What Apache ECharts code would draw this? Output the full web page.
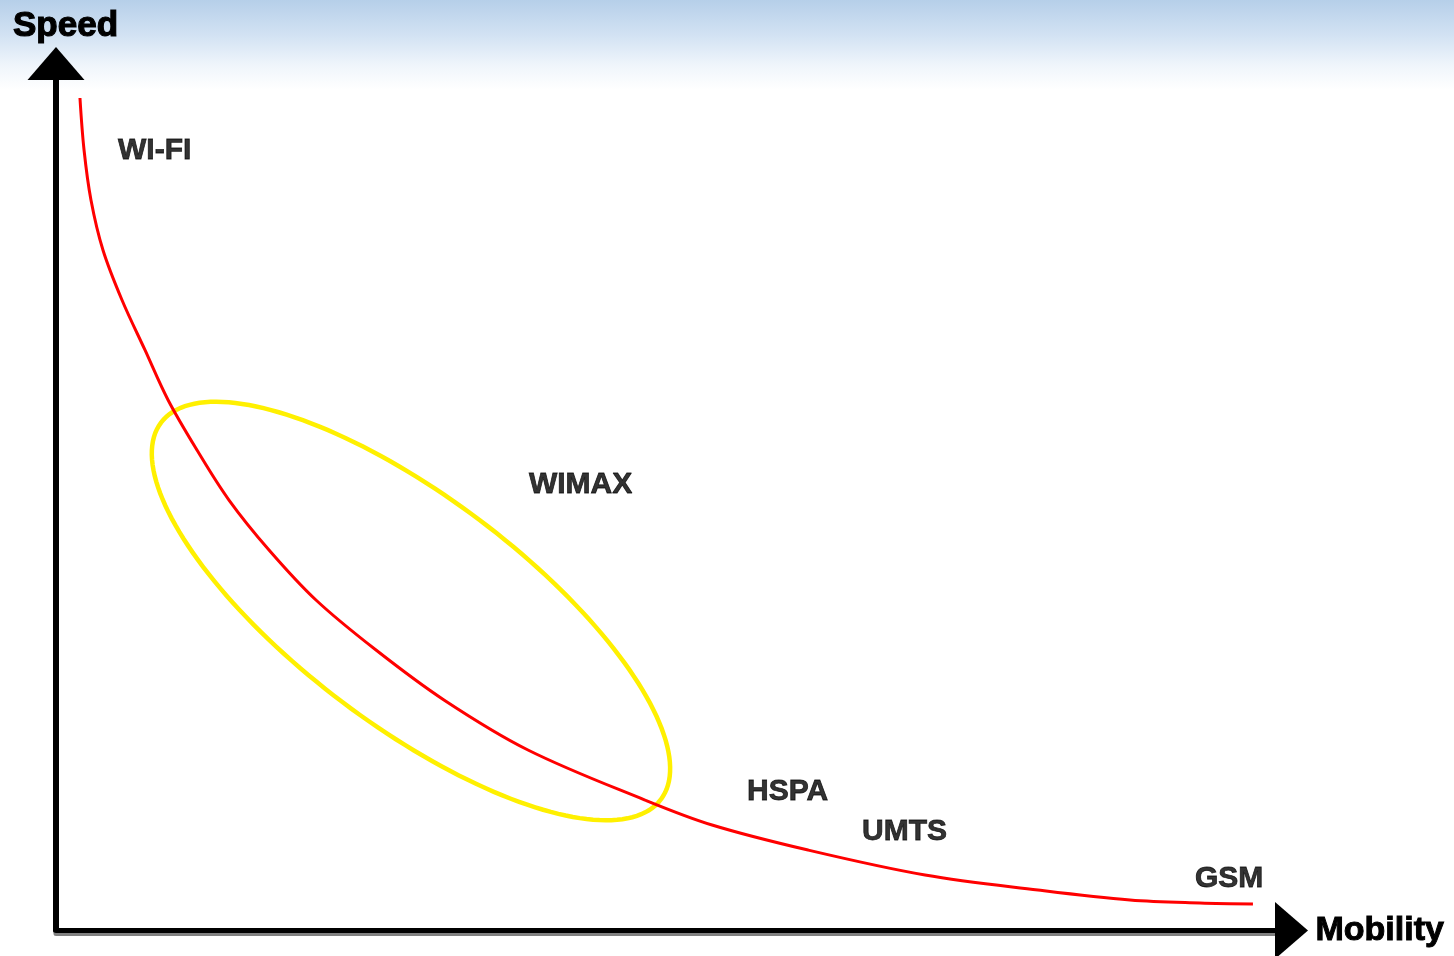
<!DOCTYPE html>
<html>
<head>
<meta charset="utf-8">
<script src="https://cdn.jsdelivr.net/npm/echarts@6/dist/echarts.min.js"></script>
<style>
  html, body { margin: 0; padding: 0; background: #ffffff; }
  #chart {
    width: 1454px; height: 956px;
    background: linear-gradient(to bottom, #b6cfe9 0px, #d2e2f3 35px, #eff5fb 65px, #ffffff 90px);
  }
</style>
</head>
<body>
<div id="chart"></div>
<script>
// Curve: speed vs mobility (arbitrary 0-100 units)
const curveMobility = [1.94, 2.27, 2.83, 3.80, 5.34, 7.20, 9.07, 11.41, 14.00, 17.24, 21.04, 25.90, 31.40, 38.20, 47.67, 53.10, 60.87, 70.34, 79.48, 86.93, 92.59, 96.88];
const curveSpeed    = [96.02, 90.02, 84.26, 78.49, 72.72, 66.96, 61.19, 55.42, 49.65, 43.89, 38.12, 32.35, 26.59, 20.82, 15.05, 12.17, 9.28, 6.40, 4.67, 3.52, 3.17, 3.06];

// Technology labels
const techNames    = ['WI-FI', 'WIMAX', 'HSPA', 'UMTS', 'GSM'];
const techMobility = [5.02, 38.28, 55.93, 65.24, 92.19];
const techSpeed    = [89.97, 51.38, 16.03, 11.36, 6.00];

// WiMAX ellipse: centre and two conjugate semi-axis vectors (data units)
const ellipseCenter = [28.73, 36.85];
const ellipseAxisA  = [20.23, -21.73];
const ellipseAxisB  = [-5.55, -10.50];

const axisNames = ['Mobility', 'Speed'];

const FONT = '"Liberation Sans", Arial, sans-serif';

const chart = echarts.init(document.getElementById('chart'), null, { renderer: 'canvas' });

const option = {
  backgroundColor: 'transparent',
  animation: false,
  grid: { left: 56, right: 162.5, top: 63.5, bottom: 25.5, containLabel: false },
  xAxis: {
    type: 'value', min: 0, max: 100,
    name: axisNames[0], nameLocation: 'end', nameGap: 24,
    nameTextStyle: { fontFamily: FONT, fontSize: 34, fontWeight: 'bold', color: '#000',
                     textBorderColor: '#000', textBorderWidth: 1 },
    axisLine: { show: true, symbol: ['none', 'triangle'], symbolSize: [57, 33],
                lineStyle: { color: '#000', width: 5, shadowColor: '#808080', shadowOffsetY: 3, shadowBlur: 0 } },
    axisTick: { show: false }, axisLabel: { show: false }, splitLine: { show: false }
  },
  yAxis: {
    type: 'value', min: 0, max: 100,
    name: axisNames[1], nameLocation: 'end', nameGap: 20,
    nameTextStyle: { fontFamily: FONT, fontSize: 35, fontWeight: 'bold', color: '#000',
                     textBorderColor: '#000', textBorderWidth: 1.2, padding: [0, 0, 0, 19] },
    axisLine: { show: true, symbol: ['none', 'triangle'], symbolSize: [57, 33],
                lineStyle: { color: '#000', width: 6 } },
    axisTick: { show: false }, axisLabel: { show: false }, splitLine: { show: false }
  },
  series: [
    {
      type: 'custom',
      name: 'WiMAX zone',
      coordinateSystem: 'cartesian2d',
      clip: false,
      z: 2,
      data: [[ellipseCenter[0], ellipseCenter[1]]],
      renderItem: function (params, api) {
        const pts = [];
        const N = 180;
        for (let i = 0; i <= N; i++) {
          const t = 2 * Math.PI * i / N;
          const c = Math.cos(t), s = Math.sin(t);
          pts.push(api.coord([
            ellipseCenter[0] + ellipseAxisA[0] * c + ellipseAxisB[0] * s,
            ellipseCenter[1] + ellipseAxisA[1] * c + ellipseAxisB[1] * s
          ]));
        }
        return { type: 'polyline', shape: { points: pts },
                 style: { stroke: '#fff000', lineWidth: 4.5, fill: null } };
      }
    },
    {
      type: 'line',
      name: 'Speed vs mobility',
      z: 3,
      smooth: 0.35,
      showSymbol: false,
      lineStyle: { color: '#ff0000', width: 3 },
      data: curveMobility.map((x, i) => [x, curveSpeed[i]])
    },
    {
      type: 'scatter',
      name: 'Technologies',
      z: 4,
      symbolSize: 0,
      label: {
        show: true, position: 'inside', align: 'left', verticalAlign: 'middle',
        fontFamily: FONT, fontSize: 30, fontWeight: 'bold', color: '#000',
        textBorderColor: '#000', textBorderWidth: 0.8,
        formatter: p => p.data[2]
      },
      data: techNames.map((n, i) => [techMobility[i], techSpeed[i], n])
    }
  ]
};
chart.setOption(option);
</script>
</body>
</html>
